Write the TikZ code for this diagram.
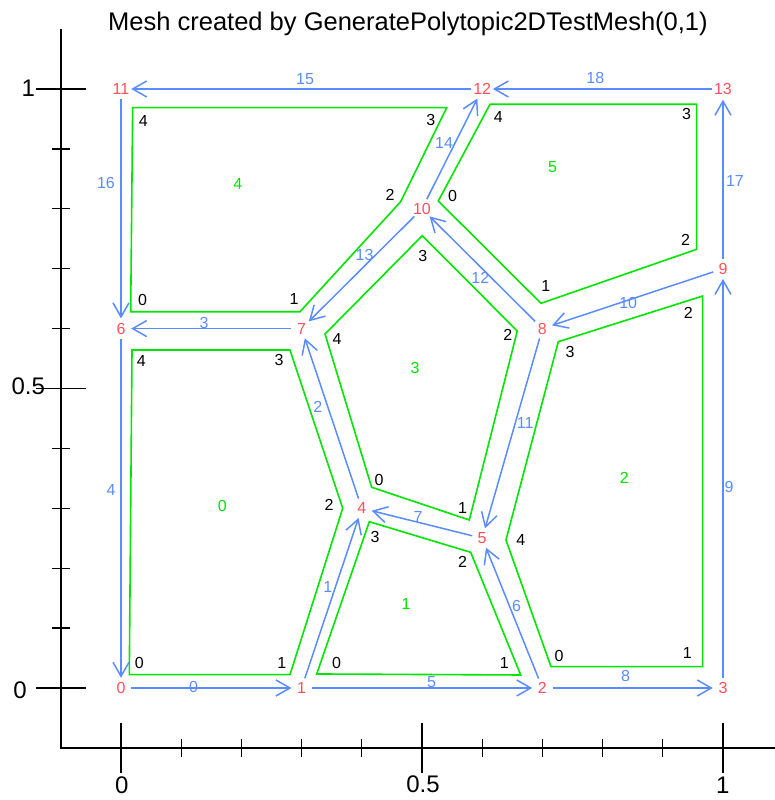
\documentclass[tikz,border=0pt]{standalone}
\usepackage{fontspec}
\setmainfont{Liberation Sans}
\usetikzlibrary{arrows.meta, calc}

\definecolor{vertred}{RGB}{255,80,90}
\definecolor{edgeblue}{RGB}{90,140,255}
\definecolor{elemgreen}{RGB}{0,230,0}

\begin{document}
\begin{tikzpicture}[
  x=602pt, y=599pt,
  axis/.style={line width=1.8pt},
  minortick/.style={line width=1.2pt},
  vert/.style={circle, minimum size=20pt, inner sep=0pt, text=vertred, font=\fontsize{16}{19}\selectfont},
  edge/.style={edgeblue, line width=1.5pt, -{Straight Barb[length=14pt, width=16pt]}},
  elabel/.style={text=edgeblue, inner sep=0pt, font=\fontsize{16}{19}\selectfont},
  elem/.style={elemgreen, line width=1.6pt},
  cellno/.style={text=elemgreen, inner sep=0pt, font=\fontsize{16}{19}\selectfont},
  corner/.style={inner sep=0pt, font=\fontsize{16}{19}\selectfont},
  ticklabel/.style={inner sep=0pt, font=\fontsize{24}{28}\selectfont}
]
\useasboundingbox (-0.201,-0.187) rectangle (1.0864,1.1486);
\clip (-0.201,-0.187) rectangle (1.0864,1.1486);

% axes
\draw[axis] (-0.1,1.1) -- (-0.1,-0.1) -- (1.1,-0.1);
\foreach \t in {0,0.5,1} {
  \draw[axis] (\t,-0.1) ++(0pt,-25pt) -- ++(0pt,50pt);
  \draw[axis] (-0.1,\t) ++(-25pt,0pt) -- ++(50pt,0pt);
}
\foreach \t in {0.1,0.2,0.3,0.4,0.6,0.7,0.8,0.9} {
  \draw[minortick] (\t,-0.1) ++(0pt,-9pt) -- ++(0pt,18pt);
  \draw[minortick] (-0.1,\t) ++(-9pt,0pt) -- ++(18pt,0pt);
}
\node[ticklabel] (ty0) at (-0.1678,-0.0033) {0};
\node[ticklabel] (ty5) at (-0.154,0.503) {0.5};
\node[ticklabel] (ty1) at (-0.154,1.0012) {1};
\node[ticklabel] (tx0) at (0.0012,-0.1625) {0};
\node[ticklabel] (tx5) at (0.5017,-0.1606) {0.5};
\node[ticklabel] (tx1) at (0.9995,-0.1625) {1};

\node[anchor=base, font=\fontsize{25.5}{30}\selectfont] (title) at (0.4767,1.0973) {Mesh created by GeneratePolytopic2DTestMesh(0,1)};

% elements
\draw[elem] (0.0138,0.0222) -- (0.2807,0.0222) -- (0.3683,0.3) -- (0.2807,0.5643) -- (0.0183,0.5643) -- cycle;
\draw[elem] (0.3251,0.0234) -- (0.664,0.0217) -- (0.5809,0.2265) -- (0.4125,0.2776) -- cycle;
\draw[elem] (0.7143,0.0356) -- (0.9663,0.0356) -- (0.9663,0.6544) -- (0.7264,0.5781) -- (0.6395,0.2471) -- cycle;
\draw[elem] (0.4164,0.3351) -- (0.5786,0.2805) -- (0.6583,0.596) -- (0.5005,0.7551) -- (0.3389,0.591) -- cycle;
\draw[elem] (0.0161,0.6282) -- (0.2973,0.6282) -- (0.4646,0.8119) -- (0.541,0.9688) -- (0.0194,0.9688) -- cycle;
\draw[elem] (0.5271,0.813) -- (0.6977,0.6422) -- (0.9563,0.7324) -- (0.9563,0.9745) -- (0.613,0.9745) -- cycle;

\node[cellno] (el0) at (0.1683,0.3038) {0};
\node[cellno] (el1) at (0.4734,0.1397) {1};
\node[cellno] (el2) at (0.8361,0.3511) {2};
\node[cellno] (el3) at (0.4884,0.5347) {3};
\node[cellno] (el4) at (0.1939,0.8409) {4};
\node[cellno] (el5) at (0.7171,0.8703) {5};

% local corner numbers
\node[corner] (k00) at (0.0304,0.0412) {0};
\node[corner] (k01) at (0.267,0.0412) {1};
\node[corner] (k02) at (0.3455,0.3055) {2};
\node[corner] (k03) at (0.2625,0.5476) {3};
\node[corner] (k04) at (0.0337,0.5459) {4};
\node[corner] (k10) at (0.3583,0.0412) {0};
\node[corner] (k11) at (0.6367,0.0412) {1};
\node[corner] (k12) at (0.5676,0.2109) {2};
\node[corner] (k13) at (0.4219,0.2526) {3};
\node[corner] (k20) at (0.7276,0.0539) {0};
\node[corner] (k21) at (0.9407,0.0589) {1};
\node[corner] (k22) at (0.9424,0.6255) {2};
\node[corner] (k23) at (0.7458,0.5614) {3};
\node[corner] (k24) at (0.664,0.2471) {4};
\node[corner] (k30) at (0.4286,0.3472) {0};
\node[corner] (k31) at (0.5673,0.3005) {1};
\node[corner] (k32) at (0.6424,0.5893) {2};
\node[corner] (k33) at (0.5012,0.7212) {3};
\node[corner] (k34) at (0.3588,0.5821) {4};
\node[corner] (k40) at (0.036,0.6477) {0};
\node[corner] (k41) at (0.2874,0.6494) {1};
\node[corner] (k42) at (0.4468,0.823) {2};
\node[corner] (k43) at (0.5145,0.9482) {3};
\node[corner] (k44) at (0.037,0.9466) {4};
\node[corner] (k50) at (0.551,0.8214) {0};
\node[corner] (k51) at (0.7055,0.6711) {1};
\node[corner] (k52) at (0.938,0.7479) {2};
\node[corner] (k53) at (0.9397,0.9578) {3};
\node[corner] (k54) at (0.6267,0.9538) {4};

% vertices
\node[vert] (v0) at (0,0) {0};
\node[vert] (v1) at (0.3,0) {1};
\node[vert] (v2) at (0.7,0) {2};
\node[vert] (v3) at (1,0) {3};
\node[vert] (v4) at (0.4,0.3) {4};
\node[vert] (v5) at (0.6,0.25) {5};
\node[vert] (v6) at (0,0.6) {6};
\node[vert] (v7) at (0.3,0.6) {7};
\node[vert] (v8) at (0.7,0.6) {8};
\node[vert] (v9) at (1,0.7) {9};
\node[vert] (v10) at (0.5,0.8) {10};
\node[vert] (v11) at (0,1) {11};
\node[vert] (v12) at (0.6,1) {12};
\node[vert] (v13) at (1,1) {13};

% edges
\draw[edge] (v0) -- node[elabel, pos=0.39, yshift=1pt] (e0) {0} (v1);
\draw[edge] (v1) -- node[elabel, pos=0.567, xshift=-7.5pt] (e1) {1} (v4);
\draw[edge] (v4) -- node[elabel, pos=0.572, xshift=-10pt] (e2) {2} (v7);
\draw[edge] (v7) -- node[elabel, pos=0.545, yshift=6pt] (e3) {3} (v6);
\draw[edge] (v6) -- node[elabel, pos=0.447, xshift=-10pt] (e4) {4} (v0);
\draw[edge] (v1) -- node[elabel, pos=0.544, yshift=6pt] (e5) {5} (v2);
\draw[edge] (v2) -- node[elabel, pos=0.554, xshift=7pt] (e6) {6} (v5);
\draw[edge] (v5) -- node[elabel, pos=0.539, yshift=5pt] (e7) {7} (v4);
\draw[edge] (v2) -- node[elabel, pos=0.455, yshift=12pt] (e8) {8} (v3);
\draw[edge] (v3) -- node[elabel, pos=0.479, xshift=6pt] (e9) {9} (v9);
\draw[edge] (v9) -- node[elabel, pos=0.528, yshift=-2.5pt] (e10) {10} (v8);
\draw[edge] (v8) -- node[elabel, pos=0.445, xshift=10pt] (e11) {11} (v5);
\draw[edge] (v8) -- node[elabel, pos=0.519, yshift=-11pt] (e12) {12} (v10);
\draw[edge] (v10) -- node[elabel, pos=0.472, yshift=11pt] (e13) {13} (v7);
\draw[edge] (v10) -- node[elabel, pos=0.559, xshift=-11pt] (e14) {14} (v12);
\draw[edge] (v12) -- node[elabel, pos=0.489, yshift=10pt] (e15) {15} (v11);
\draw[edge] (v11) -- node[elabel, pos=0.38, xshift=-15pt] (e16) {16} (v6);
\draw[edge] (v9) -- node[elabel, pos=0.489, xshift=12pt] (e17) {17} (v13);
\draw[edge] (v13) -- node[elabel, pos=0.533, yshift=11pt] (e18) {18} (v12);
\end{tikzpicture}
\end{document}
